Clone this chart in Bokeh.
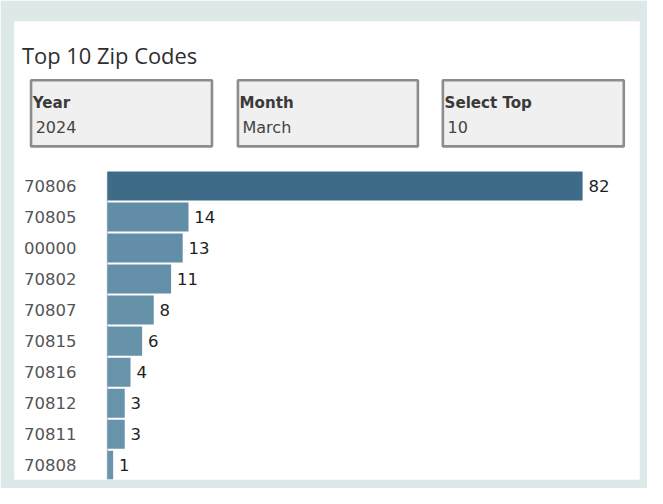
from bokeh.plotting import figure
from bokeh.models import ColumnDataSource, Range1d
from bokeh.transform import linear_cmap
from bokeh.core.properties import value
from bokeh.embed import file_html
from bokeh.resources import INLINE

# ---------------- data ----------------
title_text = "Top 10 Zip Codes"
filter_names = ["Year", "Month", "Select Top"]
filter_values = ["2024", "March", "10"]
zip_codes = ["70806", "70805", "00000", "70802", "70807",
             "70815", "70816", "70812", "70811", "70808"]
counts = [82, 14, 13, 11, 8, 6, 4, 3, 3, 1]

# ---------------- layout (reference-image pixels) ----------------
W, H = 647, 488
REF_W, REF_H = 663, 504
SX, SY = W / REF_W, H / REF_H
F = (SX + SY) / 2  # font scale

mb_left = round(14 * SX)
mb_top = round(22 * SY)
mb_right = W - round(655 * SX)
mb_bottom = H - round(495 * SY)
PANEL_L, PANEL_T = mb_left / SX, mb_top / SY
PANEL_R, PANEL_B = (W - mb_right) / SX, (H - mb_bottom) / SY

ZERO_X = 109.5
SCALE = (596.5 - ZERO_X) / max(counts)      # ref px per unit
ROW0_Y = 191.5
PITCH = 32.06


def px(ref_x):
    return (ref_x - ZERO_X) / SCALE


def py(ref_y):
    return (ref_y - ROW0_Y) / PITCH


def fs(size):
    return "%.1fpx" % (size * F)


def lerp_hex(c1, c2, n):
    a = [int(c1[i:i + 2], 16) for i in (1, 3, 5)]
    b = [int(c2[i:i + 2], 16) for i in (1, 3, 5)]
    out = []
    for k in range(n):
        t = k / (n - 1)
        out.append("#%02x%02x%02x" % tuple(round(a[j] + (b[j] - a[j]) * t) for j in range(3)))
    return out


palette = lerp_hex("#6894ac", "#3e6c88", 64)

p = figure(width=W, height=H, output_backend="svg", toolbar_location=None,
           x_range=Range1d(px(PANEL_L), px(PANEL_R)),
           y_range=Range1d(py(PANEL_B), py(PANEL_T)),
           min_border_left=mb_left, min_border_top=mb_top,
           min_border_right=mb_right, min_border_bottom=mb_bottom)
p.axis.visible = False
p.grid.visible = False
p.outline_line_color = None
p.border_fill_color = "#dde8e8"
p.background_fill_color = "#ffffff"

# ---------------- header ----------------
p.text(x=[px(22)], y=[py(57)], text=[title_text], text_font=value("Open Sans"),
       text_font_size=fs(22.5), text_color="#2e2e2e", text_baseline="alphabetic")

box_left = [30, 242, 452]
box_right = [218, 429, 640]
box_top, box_bot = 81, 152
inset = 1.3
hdr = ColumnDataSource(dict(
    left=[px(v + inset) for v in box_left],
    right=[px(v - inset) for v in box_right],
    top=[py(box_top + inset)] * 3,
    bottom=[py(box_bot - inset)] * 3,
    nx=[px(v + 3) for v in box_left],
    vx=[px(v + 6) for v in box_left],
    name=filter_names,
    val=filter_values,
))
p.quad(left="left", right="right", top="top", bottom="bottom", source=hdr,
       fill_color="#f0f0f0", line_color="#8c8c8c", line_width=2.6)
p.text(x="nx", y=py(106), text="name", source=hdr, text_font=value("DejaVu Sans"),
       text_font_style="bold", text_font_size=fs(15.5), text_color="#3a3a3a",
       text_baseline="alphabetic")
p.text(x="vx", y=py(131), text="val", source=hdr, text_font=value("DejaVu Sans"),
       text_font_size=fs(16.5), text_color="#444444", text_baseline="alphabetic")

# ---------------- bars ----------------
src = ColumnDataSource(dict(
    idx=list(range(len(zip_codes))),
    zip=zip_codes,
    count=counts,
    label=[str(c) for c in counts],
))
p.segment(x0=[0], x1=[0], y0=[py(177)], y1=[py(PANEL_B)], line_color="#c4c4c4", line_width=1.2)
p.hbar(y="idx", left=0, right="count", height=30 / PITCH, source=src,
       fill_color=linear_cmap("count", palette, low=min(counts), high=max(counts)),
       line_color=None)
p.text(x="count", y="idx", text="label", source=src, x_offset=6 * SX,
       text_font=value("DejaVu Sans"), text_font_size=fs(17), text_color="#1e1e1e",
       text_baseline="middle")
p.text(x=0, y="idx", text="zip", source=src, x_offset=(24 - ZERO_X) * SX,
       text_font=value("DejaVu Sans"), text_font_size=fs(17), text_color="#555555",
       text_baseline="middle")

open("out.html", "w").write(file_html(p, INLINE))
